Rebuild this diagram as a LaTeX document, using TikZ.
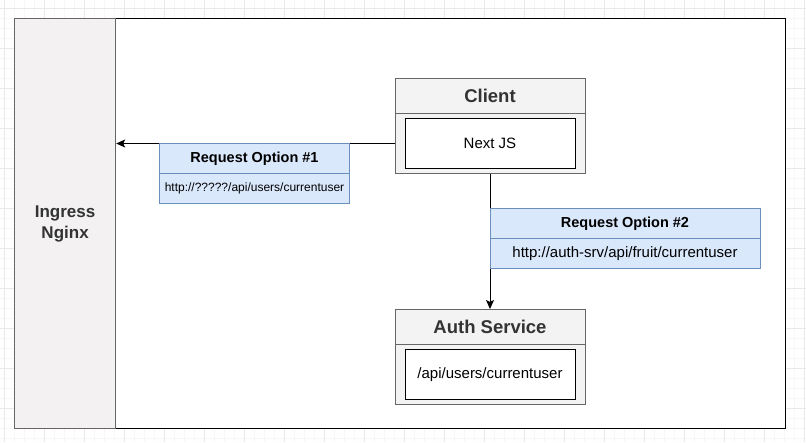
\documentclass[tikz,border=0pt]{standalone}
\usepackage{fontspec}
\setmainfont{Liberation Sans}
\usetikzlibrary{positioning,arrows.meta}

\definecolor{gridminor}{RGB}{247,247,247}
\definecolor{gridmajor}{RGB}{233,233,233}
\definecolor{ingressfill}{RGB}{243,241,242}
\definecolor{panelfill}{RGB}{243,243,243}
\definecolor{panelline}{RGB}{102,102,102}
\definecolor{reqfill}{RGB}{218,232,252}
\definecolor{reqline}{RGB}{108,142,191}
\definecolor{titletext}{RGB}{51,51,51}

\tikzset{
    paneltitle/.style={draw=panelline, fill=panelfill, line width=1pt, minimum width=190pt,
        minimum height=35pt, inner sep=0pt, text=titletext, font=\bfseries\fontsize{18.5}{22}\selectfont},
    panelbody/.style={draw=panelline, fill=panelfill, line width=1pt, minimum width=190pt,
        minimum height=60pt, inner sep=0pt},
    innerbox/.style={draw=black, fill=white, line width=1pt, minimum width=170pt,
        minimum height=50pt, inner sep=0pt, font=\fontsize{15}{18}\selectfont},
    reqhead/.style={draw=reqline, fill=reqfill, line width=1pt, minimum height=30pt,
        inner sep=0pt, font=\bfseries\fontsize{14.5}{17}\selectfont},
    reqbody/.style={draw=reqline, fill=reqfill, line width=1pt, minimum height=30pt,
        inner sep=0pt},
    flow/.style={draw=black, line width=1pt, -{Stealth[length=9pt,width=8pt,inset=2pt]}}
}

\begin{document}
\begin{tikzpicture}[x=1pt, y=-1pt]
        \useasboundingbox (0,0) rectangle (806,442);

        \foreach \gx in {4,14,...,804} \draw[gridminor, line width=0.6pt] (\gx,0) -- (\gx,442);
        \foreach \gy in {8,18,...,438} \draw[gridminor, line width=0.6pt] (0,\gy) -- (806,\gy);
        \foreach \gx in {4,44,...,804} \draw[gridmajor, line width=0.8pt] (\gx,0) -- (\gx,442);
        \foreach \gy in {8,48,...,408} \draw[gridmajor, line width=0.8pt] (0,\gy) -- (806,\gy);

        \node[draw=black, fill=white, line width=1.3pt, minimum width=771pt, minimum height=410pt,
            inner sep=0pt, anchor=north west] (frame) at (14,18) {};
        \node[draw=panelline, fill=ingressfill, line width=1.2pt, minimum width=101pt,
            minimum height=410pt, inner sep=0pt, anchor=north west, align=center, text=titletext,
            font=\bfseries\fontsize{17}{21}\selectfont] (ingress) at (14,18) {Ingress\\Nginx};

        \node[paneltitle, anchor=north west] (clienttitle) at (394.5,78) {Client};
        \node[panelbody, below=-1pt of clienttitle] (clientbody) {};
        \node[innerbox] (nextjs) at (clientbody) {Next JS};

        \node[paneltitle, anchor=north west] (authtitle) at (394.5,309) {Auth Service};
        \node[panelbody, below=-1pt of authtitle] (authbody) {};
        \node[innerbox] (authroute) at (authbody) {/api/users/currentuser};

        \draw[flow] (clientbody.west) -- (clientbody.west -| ingress.east);
        \draw[flow] (clientbody.south) -- (authtitle.north);

        \node[reqhead, minimum width=190pt, anchor=north west] (opt1head) at (159,143) {Request Option \#1};
        \node[reqbody, minimum width=190pt, below=-1pt of opt1head,
            font=\fontsize{12}{14}\selectfont] (opt1url) {http://?????/api/users/currentuser};

        \node[reqhead, minimum width=270pt, anchor=north west] (opt2head) at (489.5,208) {Request Option \#2};
        \node[reqbody, minimum width=270pt, below=-1pt of opt2head,
            font=\fontsize{15}{18}\selectfont] (opt2url) {http://auth-srv/api/fruit/currentuser};
\end{tikzpicture}
\end{document}
